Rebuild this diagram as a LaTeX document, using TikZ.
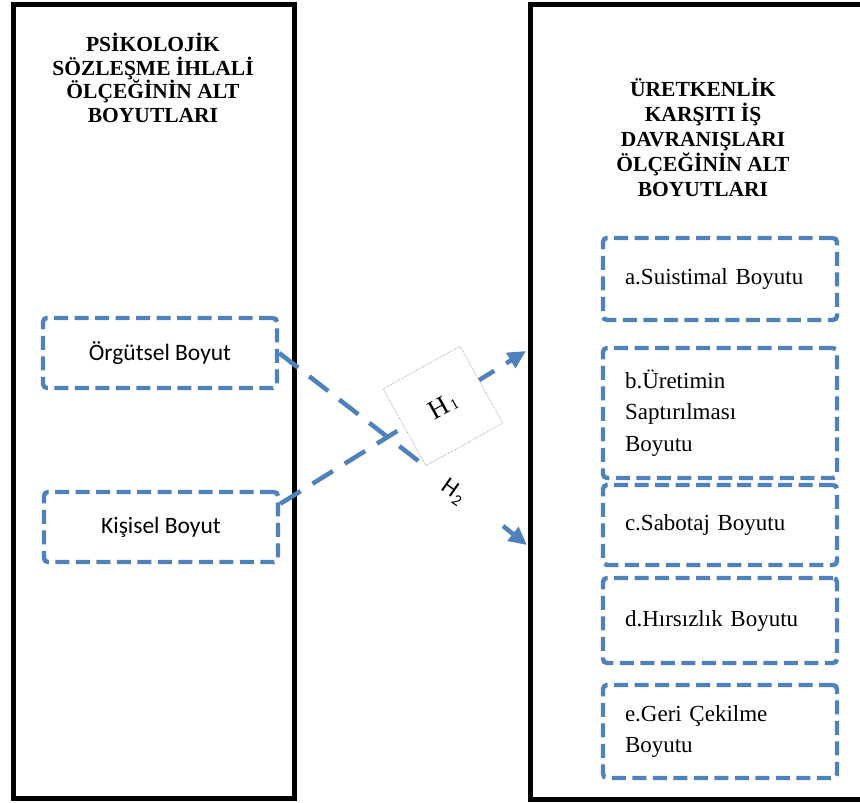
\documentclass[tikz,border=0pt]{standalone}
\usepackage{fontspec}
\setmainfont{Liberation Serif}
\newfontfamily\carlito{Carlito}
\usetikzlibrary{arrows.meta}
\definecolor{dblue}{HTML}{4F81BD}
\begin{document}
\begin{tikzpicture}[x=1pt,y=-1pt,
  bigbox/.style={draw=black,line width=5pt},
  dbox/.style={draw=dblue,line width=4.4pt,dash pattern=on 14pt off 6.5pt,rounded corners=4pt,fill=white},
  lbox/.style={dbox,minimum width=234pt,minimum height=70pt,font=\carlito\fontsize{23.5}{26}\selectfont},
  rbox/.style={dbox,minimum width=234pt,text width=190pt,align=left,inner xsep=22pt,font=\fontsize{23}{31.5}\selectfont},
  title/.style={align=center,font=\bfseries\fontsize{21.5}{23.5}\selectfont},
  link/.style={draw=dblue,line width=4.5pt,dash pattern=on 24pt off 14pt},
  tip/.style={-{Triangle[length=18pt,width=17pt]}}
]
\useasboundingbox (0,0) rectangle (860,803);
% big frames
\draw[bigbox] (13,4) rectangle (294,798);
\draw[bigbox] (530,4) rectangle (880,799);
% titles
\node[title] (lt) at (153,78) {PSİKOLOJİK\\SÖZLEŞME İHLALİ\\ÖLÇEĞİNİN ALT\\BOYUTLARI};
\node[title,font=\bfseries\fontsize{21.5}{25}\selectfont] (rt) at (703,137) {ÜRETKENLİK\\KARŞITI İŞ\\DAVRANIŞLARI\\ÖLÇEĞİNİN ALT\\BOYUTLARI};
% left boxes
\node[lbox] (org) at (160,353) {Örgütsel Boyut};
\node[lbox] (kis) at (161,527) {Kişisel Boyut};
% right boxes
\node[rbox,minimum height=82pt] (a) at (720,279) {a.Suistimal Boyutu};
\node[rbox,minimum height=130pt] (b) at (720,413) {b.Üretimin\\Saptırılması\\Boyutu};
\node[rbox,minimum height=80pt] (c) at (720,525) {c.Sabotaj Boyutu};
\node[rbox,minimum height=85pt] (d) at (720,620.5) {d.Hırsızlık Boyutu};
\node[rbox,minimum height=93pt] (e) at (720,731.5) {e.Geri Çekilme\\Boyutu};
% connectors
\coordinate (t1) at (526,351);
\coordinate (t2) at (527,545);
\coordinate (g1) at (423,464.5);
\coordinate (g2) at (503,526);
\draw[link,tip] ([yshift=-14pt]kis.north east) -- (t1);
\draw[link] (org.east) -- (g1);
\draw[link,tip] (g2) -- (t2);
% hypothesis labels
\node[draw=black!45,line width=0.6pt,densely dotted,fill=white,minimum size=88pt,rotate=29,font=\fontsize{27}{27}\selectfont] (h1) at (443,406) {H\kern2pt\raisebox{-1pt}{\fontsize{15}{15}\selectfont 1}};
\node[rotate=-35,font=\carlito\fontsize{24}{24}\selectfont] (h2) at (453,492) {H\kern1.5pt\raisebox{-5pt}{\fontsize{16}{16}\selectfont 2}};
\end{tikzpicture}
\end{document}
